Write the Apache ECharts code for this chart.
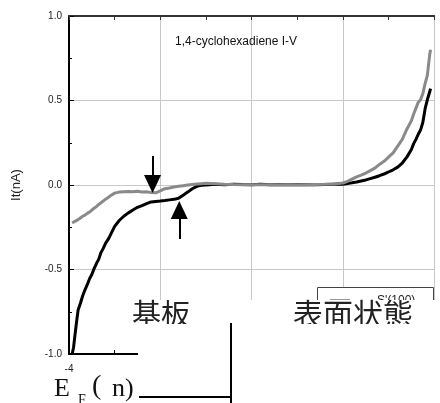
<!DOCTYPE html>
<html><head><meta charset="utf-8">
<script src="https://cdn.jsdelivr.net/npm/echarts@6/dist/echarts.min.js"></script>
<style>html,body{margin:0;padding:0;background:#fff}#c{width:440px;height:403px}</style>
</head><body><div id="c"></div>
<script>
const bias = [-3.93,-3.9,-3.87,-3.83,-3.8,-3.75,-3.7,-3.65,-3.6,-3.55,-3.5,-3.45,-3.4,-3.35,-3.3,-3.25,-3.2,-3.15,-3.1,-3.0,-2.9,-2.8,-2.7,-2.6,-2.5,-2.4,-2.3,-2.2,-2.1,-2.0,-1.9,-1.8,-1.7,-1.6,-1.5,-1.4,-1.3,-1.2,-1.1,-1.0,-0.8,-0.6,-0.4,-0.2,0,0.2,0.4,0.6,0.8,1.0,1.2,1.4,1.6,1.8,2.0,2.1,2.2,2.3,2.4,2.5,2.6,2.7,2.8,2.9,3.0,3.1,3.2,3.3,3.4,3.5,3.55,3.6,3.65,3.7,3.75,3.8,3.85,3.9,3.92];
const substrateI = [-1.0,-0.96,-0.89,-0.8,-0.74,-0.7,-0.655,-0.62,-0.59,-0.555,-0.53,-0.495,-0.465,-0.44,-0.4,-0.375,-0.345,-0.325,-0.3,-0.245,-0.21,-0.185,-0.165,-0.148,-0.132,-0.122,-0.11,-0.1,-0.097,-0.095,-0.092,-0.088,-0.085,-0.078,-0.06,-0.042,-0.022,-0.008,-0.002,0.0,0.004,0.002,0.005,0.003,0.002,0.004,0.002,0.003,0.002,0.003,0.002,0.002,0.003,0.004,0.005,0.009,0.013,0.018,0.024,0.03,0.038,0.046,0.055,0.065,0.077,0.09,0.106,0.13,0.165,0.21,0.245,0.27,0.3,0.325,0.37,0.45,0.505,0.55,0.57];
const surfaceI = [-0.225,-0.22,-0.215,-0.21,-0.205,-0.195,-0.185,-0.178,-0.168,-0.16,-0.148,-0.138,-0.128,-0.115,-0.105,-0.095,-0.084,-0.075,-0.065,-0.048,-0.042,-0.04,-0.038,-0.04,-0.037,-0.041,-0.04,-0.045,-0.046,-0.035,-0.022,-0.018,-0.012,-0.008,-0.004,0.0,0.003,0.006,0.008,0.01,0.008,0.005,0.003,0.002,0.002,0.001,0.002,0.002,0.001,0.002,0.002,0.003,0.004,0.006,0.012,0.022,0.035,0.048,0.058,0.07,0.085,0.1,0.122,0.14,0.165,0.19,0.23,0.27,0.33,0.38,0.42,0.455,0.49,0.505,0.54,0.6,0.65,0.77,0.8];
const yTicks = [-1.0,-0.5,0.0,0.5,1.0];
const arrowDown = {x:-2.17, from:0.172, to:0.006};
const arrowUp = {x:-1.585, from:-0.32, to:-0.148};

const chart = echarts.init(document.getElementById('c'), null, {renderer:'canvas'});
const pair = arr => bias.map((x,i)=>[x,arr[i]]);
const numFont = 'Liberation Sans';
chart.setOption({
  animation:false,
  grid:{left:69, top:16, right:0, bottom:49, containLabel:false},
  xAxis:[{
    type:'value', min:-4, max:4, interval:2, position:'bottom',
    axisLine:{onZero:false, lineStyle:{color:'#000', width:2}},
    axisTick:{inside:true, length:4, lineStyle:{color:'#000'}},
    minorTick:{show:true, splitNumber:2, length:4, lineStyle:{color:'#000'}},
    axisLabel:{fontFamily:numFont, fontSize:10, color:'#222', margin:10},
    splitLine:{show:true, lineStyle:{color:'#c8c8c8', width:1}}
  },{
    type:'value', min:-4, max:4, interval:2, position:'top',
    axisLine:{onZero:false, lineStyle:{color:'#333', width:2}},
    axisTick:{inside:true, length:4, lineStyle:{color:'#333'}},
    minorTick:{show:true, splitNumber:2, length:4, lineStyle:{color:'#333'}},
    axisLabel:{show:false}, splitLine:{show:false}
  }],
  yAxis:{
    type:'value', min:-1, max:1, interval:0.5, position:'left',
    name:'It(nA)', nameLocation:'middle', nameGap:46, nameRotate:90,
    nameTextStyle:{fontFamily:numFont, fontSize:13, color:'#222'},
    axisLine:{show:true, onZero:false, lineStyle:{color:'#000', width:2}},
    axisTick:{inside:true, length:5, lineStyle:{color:'#000'}},
    minorTick:{show:true, splitNumber:2, length:3, lineStyle:{color:'#000'}},
    axisLabel:{fontFamily:numFont, fontSize:10, color:'#222', margin:7,
      formatter:v=>{const t=yTicks.find(k=>Math.abs(k-v)<1e-9);return (t===undefined?v:t).toFixed(1);}},
    splitLine:{show:true, lineStyle:{color:'#c8c8c8', width:1}}
  },
  series:[{
    type:'line', data:pair(substrateI), showSymbol:false, symbol:'none',
    lineStyle:{color:'#000', width:3}, clip:true, z:3,
    markLine:{
      silent:true, symbol:['none','triangle'], symbolSize:[17,18],
      label:{show:false}, lineStyle:{color:'#000', width:2, type:'solid'},
      emphasis:{disabled:true},
      data:[
        [{coord:[arrowDown.x, arrowDown.from]},{coord:[arrowDown.x, arrowDown.to]}],
        [{coord:[arrowUp.x, arrowUp.from]},{coord:[arrowUp.x, arrowUp.to]}]
      ]
    }
  },{
    type:'line', data:pair(surfaceI), showSymbol:false, symbol:'none',
    lineStyle:{color:'#8a8a8a', width:3}, clip:true, z:4
  }],
  graphic:[
    {type:'text', z:100, left:175, top:36, style:{text:'1,4-cyclohexadiene I-V', font:'12px "Liberation Sans"', fill:'#111'}},
    {type:'rect', z:100, shape:{x:317.5, y:287.5, width:116, height:30}, style:{fill:'#fff', stroke:'#444', lineWidth:1}},
    {type:'rect', z:100, shape:{x:330, y:299, width:20, height:3}, style:{fill:'#999'}},
    {type:'text', z:100, left:377, top:295, style:{text:"S'(100)", font:'12px "Liberation Sans"', fill:'#222'}},
    {type:'rect', z:101, shape:{x:138, y:300, width:302, height:103}, style:{fill:'#fff'}},
    {type:'text', z:102, left:132, top:299, style:{text:'基板', font:'29px "Noto Sans CJK JP"', fill:'#222'}},
    {type:'text', z:102, left:293, top:299, style:{text:'表面状態', font:'30px "Noto Sans CJK JP"', fill:'#222'}},
    {type:'rect', z:103, shape:{x:128, y:324, width:80, height:25}, style:{fill:'#fff'}},
    {type:'rect', z:103, shape:{x:286, y:324, width:150, height:25}, style:{fill:'#fff'}},
    {type:'text', z:104, left:54, top:376, style:{text:'E', font:'26px "Liberation Serif"', fill:'#111'}},
    {type:'text', z:104, left:78, top:393, style:{text:'F', font:'14px "Liberation Serif"', fill:'#111'}},
    {type:'text', z:104, left:92, top:373, style:{text:'(', font:'28px "Liberation Serif"', fill:'#111'}},
    {type:'text', z:104, left:112, top:376, style:{text:'n)', font:'26px "Liberation Serif"', fill:'#111'}},
    {type:'line', z:104, shape:{x1:139, y1:397, x2:232, y2:397}, style:{stroke:'#000', lineWidth:2}},
    {type:'line', z:104, shape:{x1:231, y1:323, x2:231, y2:403}, style:{stroke:'#000', lineWidth:2}}
  ]
});
</script></body></html>
